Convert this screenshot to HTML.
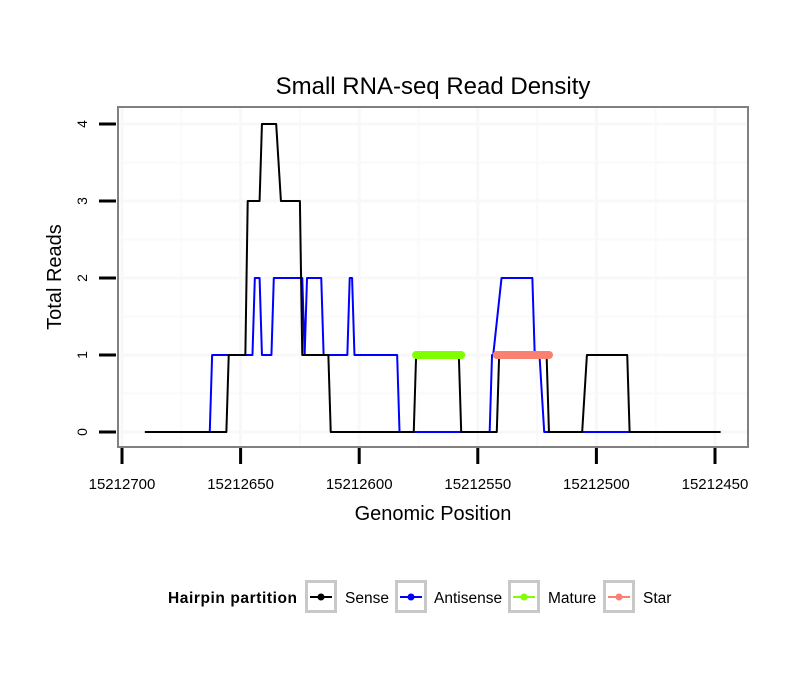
<!DOCTYPE html>
<html><head><meta charset="utf-8"><style>
body{margin:0;background:#fff;}
svg text{font-family:"Liberation Sans",sans-serif;}
</style></head><body>
<svg id="chart" width="810" height="690" xmlns="http://www.w3.org/2000/svg">
<rect width="810" height="690" fill="#fff"/>
<text x="433" y="94" font-size="24" text-anchor="middle">Small RNA-seq Read Density</text>
<g id="grid"></g>
<g id="series"></g>
<rect x="118" y="107" width="630" height="340" fill="none" stroke="#808080" stroke-width="2"/>
<g id="axes"></g>
<text x="433" y="520" font-size="20" text-anchor="middle">Genomic Position</text>
<text transform="translate(61,277) rotate(-90)" font-size="20" text-anchor="middle">Total Reads</text>
<g>
<text x="168" y="603" font-size="15.5" font-weight="bold" textLength="129">Hairpin partition</text>
<g id="legend"></g>
</g>
</svg>
<script>
const senseX=[15212690,15212656,15212655,15212648,15212647,15212642,15212641,15212635,15212633,15212625,15212624,15212613,15212612,15212577,15212576,15212558,15212557,15212542,15212541,15212521,15212520,15212506,15212504,15212487,15212486,15212448];
const senseY=[0,0,1,1,3,3,4,4,3,3,1,1,0,0,1,1,0,0,1,1,0,0,1,1,0,0];
const antiX=[15212690,15212663,15212662,15212645,15212644,15212642,15212641,15212637,15212636,15212624,15212623,15212622,15212616,15212615,15212605,15212604,15212603,15212602,15212584,15212583,15212545,15212544,15212543.5,15212540,15212527,15212526,15212524,15212522,15212448];
const antiY=[0,0,1,1,2,2,1,1,2,2,1,2,2,1,1,2,2,1,1,0,0,1,1,2,2,1,1,0,0];
const matureX=[15212576,15212557];
const matureY=[1,1];
const starX=[15212542,15212520];
const starY=[1,1];
const xTicks=[15212700,15212650,15212600,15212550,15212500,15212450];
const yTicks=[0,1,2,3,4];

const NS="http://www.w3.org/2000/svg";
function xs(v){return 122+(15212700-v)*2.372;}
function ys(v){return 432-v*77;}
function mk(tag,attrs,parent){const e=document.createElementNS(NS,tag);for(const k in attrs)e.setAttribute(k,attrs[k]);parent.appendChild(e);return e;}
const grid=document.getElementById('grid'),axes=document.getElementById('axes'),series=document.getElementById('series'),legend=document.getElementById('legend');
for(let i=0;i<yTicks.length-1;i++){const y=ys((yTicks[i]+yTicks[i+1])/2);
 const l=mk('line',{x1:119,x2:747,y1:y,y2:y,stroke:'#fafafa','stroke-width':2},grid);
 
 }
for(let i=0;i<xTicks.length-1;i++){const x=xs((xTicks[i]+xTicks[i+1])/2);
 const l=mk('line',{x1:x,x2:x,y1:108,y2:446,stroke:'#fafafa','stroke-width':2},grid);
 
 }
yTicks.forEach(t=>{const y=ys(t);
 const g=mk('line',{x1:119,x2:747,y1:y,y2:y,stroke:'#f8f8f8','stroke-width':3},grid);
 
 
 const tk=mk('line',{x1:99,x2:116,y1:y,y2:y,stroke:'#000','stroke-width':3},axes);
 
 
 const tx=mk('text',{transform:`translate(87,${y}) rotate(-90)`,'font-size':14,'text-anchor':'middle'},axes);
 tx.textContent=t;
 
 });
xTicks.forEach(t=>{const x=xs(t);
 if(x>119&&x<747){const g=mk('line',{x1:x,x2:x,y1:108,y2:446,stroke:'#f8f8f8','stroke-width':3},grid);
 
 }
 const tk=mk('line',{x1:x,x2:x,y1:448,y2:464,stroke:'#000','stroke-width':3},axes);
 
 
 const tx=mk('text',{x:x,y:489,'font-size':15,'text-anchor':'middle'},axes);
 tx.textContent=t;
 
 });
function line(X,Y,color,w,name){const p=mk('polyline',{points:X.map((v,i)=>xs(v)+','+ys(Y[i])).join(' '),fill:'none',stroke:color,'stroke-width':w,'stroke-linejoin':'round','stroke-linecap':'round'},series);
 
 }
line(antiX,antiY,'#0000ff',2,'antisense-line');
line(senseX,senseY,'#000000',2,'sense-line');
line(matureX,matureY,'#7fff00',8,'mature-segment');
line(starX,starY,'#fa8072',8,'star-segment');
const items=[['Sense','#000',305,345],['Antisense','#0000ff',395,434],['Mature','#7fff00',508,548],['Star','#fa8072',603,643]];
items.forEach(it=>{
 const g=mk('g',{},legend);
 
 
 mk('rect',{x:it[2]+1.5,y:581.5,width:29,height:30,fill:'#fff',stroke:'#c8c8c8','stroke-width':3},g);
 mk('line',{x1:it[2]+5,x2:it[2]+27,y1:597,y2:597,stroke:it[1],'stroke-width':2},g);
 mk('circle',{cx:it[2]+16,cy:597,r:3.5,fill:it[1]},g);
 const t=mk('text',{x:it[3],y:603,'font-size':15.5},g);t.textContent=it[0];});
</script>
</body></html>
